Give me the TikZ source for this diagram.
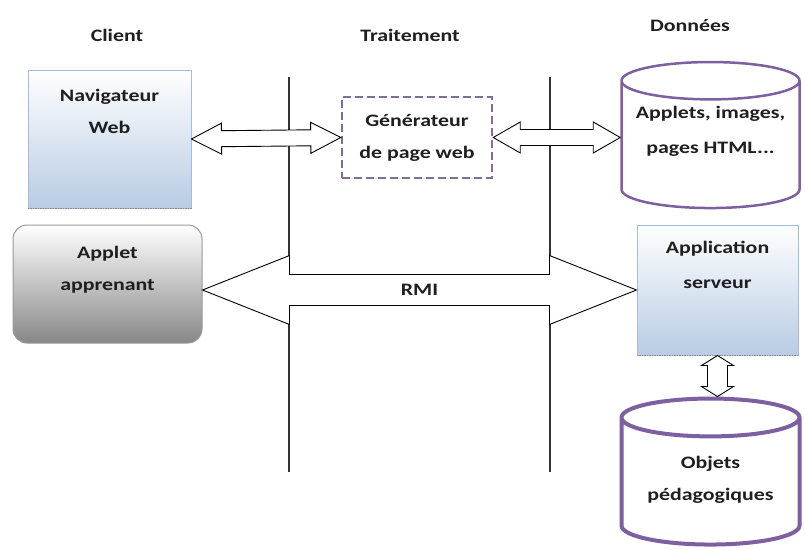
\documentclass[tikz,border=0pt]{standalone}
\usepackage{fontspec}
\setmainfont{Carlito}[FakeStretch=1.25]
\usetikzlibrary{calc,shapes.geometric}
\definecolor{bleubas}{RGB}{184,204,228}
\definecolor{bordbleu}{RGB}{165,188,216}
\definecolor{violet}{RGB}{124,96,160}
\definecolor{violetpointe}{RGB}{128,110,150}
\def\fatarrow[#1](#2)(#3)(#4:#5:#6){\draw[#1] (#2)
	-- ($(#2)!#6!(#3)!#5!90:(#3)$) -- ($(#2)!#6!(#3)!#4!90:(#3)$)
	-- ($(#3)!#6!(#2)!#4!-90:(#2)$) -- ($(#3)!#6!(#2)!#5!-90:(#2)$)
	-- (#3)
	-- ($(#3)!#6!(#2)!#5!90:(#2)$) -- ($(#3)!#6!(#2)!#4!90:(#2)$)
	-- ($(#2)!#6!(#3)!#4!-90:(#3)$) -- ($(#2)!#6!(#3)!#5!-90:(#3)$) -- cycle}
\def\hausse#1#2{\raisebox{#1}[\height][\depth]{\begin{tabular}{@{}c@{}}#2\end{tabular}}}
\tikzset{
	txt/.style={font=\bfseries\fontsize{17.5}{32}\selectfont, text=black!88},
	hautbox/.style n args={3}{txt, inner sep=0pt,
		execute at begin node={\begin{minipage}[c][#2][t]{#1}\centering\vspace*{#3}},
		execute at end node={\end{minipage}}},
	bleubox/.style={draw=bordbleu, line width=1pt, top color=white, bottom color=bleubas},
	grisbox/.style={draw=black!40, line width=1pt, top color=white, bottom color=black!47, rounded corners=14pt},
	cyl/.style={txt, cylinder, shape border rotate=90, draw=violet, inner sep=0pt, minimum width=178pt, minimum height=146pt, aspect=0.3},
	fleche/.style={draw=black, fill=white, line width=0.9pt},
}
\begin{document}
\begin{tikzpicture}[x=1pt, y=-1pt]
	\useasboundingbox (0,0) rectangle (805,549);
	
	%%% colonnes
	\draw[line width=2pt, black!80] (289,77) -- (289,472);
	\draw[line width=2pt, black!80] (550,77) -- (550,472);
	
	\node[txt] (client) at (117,35) {Client};
	\node[txt] (trait) at (410,35) {Traitement};
	\node[txt] (donnees) at (690,26) {Données};
	
	%%% boites
	\node[bleubox, hautbox={163pt}{138pt}{19pt}] (nav) at (109.5,139) {Navigateur\\Web};
	\node[txt, draw=violetpointe, line width=2.5pt, dash pattern=on 8pt off 4pt, minimum width=150pt, minimum height=81pt, align=center] (gen) at (417,137.5) {Générateur\\de page web};
	\node[cyl, line width=2.5pt, aspect=0.25] (dat) at (710.5,145) {\hausse{15pt}{Applets, images,\\[3pt]pages HTML...}};
	\node[grisbox, hautbox={189pt}{118pt}{21pt}] (applet) at (107.5,284) {Applet\\apprenant};
	\node[bleubox, hautbox={161pt}{130pt}{16pt}] (srv) at (717.5,290) {Application\\[3pt]serveur};
	\node[cyl, line width=4pt] (obj) at (710.5,482) {\hausse{4pt}{Objets\\pédagogiques}};
	
	\draw[densely dotted, black!45, line width=1.5pt] (nav.south west) -- (nav.south east);
	\draw[densely dotted, black!45, line width=1.5pt] (srv.south west) -- (srv.south east);
	
	%%% fleches
	\coordinate (datg) at (gen.east -| dat.west);
	\coordinate (rmig) at (applet.east |- srv.west);
	\coordinate (objh) at (srv.south |- obj.north);
	\fatarrow[fleche](nav.east)(gen.west)(8pt:15.5pt:30pt);
	\fatarrow[fleche](gen.east)(datg)(8pt:15.5pt:27pt);
	\fatarrow[fleche](rmig)(srv.west)(15.5pt:34.5pt:87pt);
	\fatarrow[fleche](srv.south)(objh)(10pt:16pt:10pt);
	
	\node[txt] (rmi) at ($(rmig)!0.5!(srv.west)$) {RMI};
	
\end{tikzpicture}
\end{document}
